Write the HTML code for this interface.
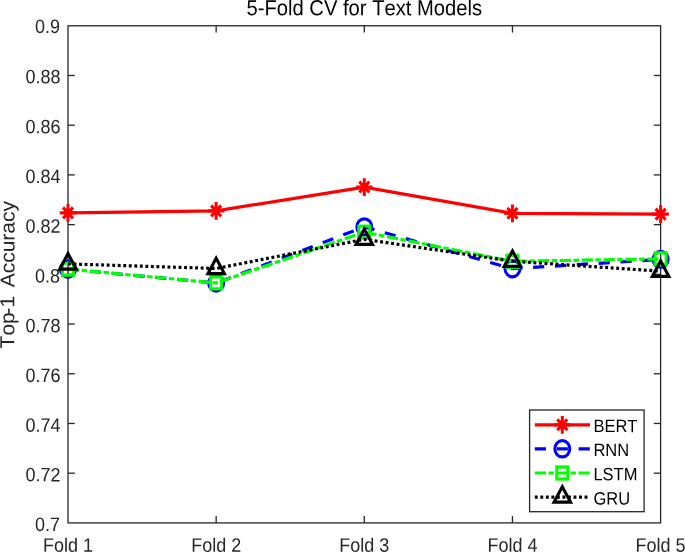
<!DOCTYPE html>
<html lang="en"><head><meta charset="utf-8"><title>5-Fold CV for Text Models</title>
<style>html,body{margin:0;padding:0;background:#fff;}body{width:685px;height:552px;overflow:hidden;}svg{display:block;font-family:"Liberation Sans",Arial,sans-serif;font-kerning:none;}</style>
</head><body>
<svg width="685" height="552" viewBox="0 0 685 552">
<rect x="0" y="0" width="685" height="552" fill="#ffffff"/>
<g stroke="#262626" stroke-width="1.3" fill="none">
<rect x="68.0" y="25.77" width="592.60" height="497.13"/>
<line x1="68.0" y1="473.19" x2="74.80" y2="473.19"/>
<line x1="660.6" y1="473.19" x2="653.80" y2="473.19"/>
<line x1="68.0" y1="423.47" x2="74.80" y2="423.47"/>
<line x1="660.6" y1="423.47" x2="653.80" y2="423.47"/>
<line x1="68.0" y1="373.76" x2="74.80" y2="373.76"/>
<line x1="660.6" y1="373.76" x2="653.80" y2="373.76"/>
<line x1="68.0" y1="324.05" x2="74.80" y2="324.05"/>
<line x1="660.6" y1="324.05" x2="653.80" y2="324.05"/>
<line x1="68.0" y1="274.34" x2="74.80" y2="274.34"/>
<line x1="660.6" y1="274.34" x2="653.80" y2="274.34"/>
<line x1="68.0" y1="224.62" x2="74.80" y2="224.62"/>
<line x1="660.6" y1="224.62" x2="653.80" y2="224.62"/>
<line x1="68.0" y1="174.91" x2="74.80" y2="174.91"/>
<line x1="660.6" y1="174.91" x2="653.80" y2="174.91"/>
<line x1="68.0" y1="125.20" x2="74.80" y2="125.20"/>
<line x1="660.6" y1="125.20" x2="653.80" y2="125.20"/>
<line x1="68.0" y1="75.48" x2="74.80" y2="75.48"/>
<line x1="660.6" y1="75.48" x2="653.80" y2="75.48"/>
<line x1="216.15" y1="522.9" x2="216.15" y2="516.10"/>
<line x1="216.15" y1="25.77" x2="216.15" y2="32.57"/>
<line x1="364.30" y1="522.9" x2="364.30" y2="516.10"/>
<line x1="364.30" y1="25.77" x2="364.30" y2="32.57"/>
<line x1="512.45" y1="522.9" x2="512.45" y2="516.10"/>
<line x1="512.45" y1="25.77" x2="512.45" y2="32.57"/>
</g>
<text transform="translate(60.00,531.10) scale(1,1.08) rotate(0.05)" text-anchor="end" font-size="18.0px" fill="#262626">0.7</text>
<text transform="translate(60.50,481.39) scale(1,1.08) rotate(0.05)" text-anchor="end" font-size="18.0px" fill="#262626">0.72</text>
<text transform="translate(60.50,431.67) scale(1,1.08) rotate(0.05)" text-anchor="end" font-size="18.0px" fill="#262626">0.74</text>
<text transform="translate(60.50,381.96) scale(1,1.08) rotate(0.05)" text-anchor="end" font-size="18.0px" fill="#262626">0.76</text>
<text transform="translate(60.50,332.25) scale(1,1.08) rotate(0.05)" text-anchor="end" font-size="18.0px" fill="#262626">0.78</text>
<text transform="translate(60.00,282.54) scale(1,1.08) rotate(0.05)" text-anchor="end" font-size="18.0px" fill="#262626">0.8</text>
<text transform="translate(60.50,232.82) scale(1,1.08) rotate(0.05)" text-anchor="end" font-size="18.0px" fill="#262626">0.82</text>
<text transform="translate(60.50,183.11) scale(1,1.08) rotate(0.05)" text-anchor="end" font-size="18.0px" fill="#262626">0.84</text>
<text transform="translate(60.50,133.20) scale(1,1.08) rotate(0.05)" text-anchor="end" font-size="18.0px" fill="#262626">0.86</text>
<text transform="translate(60.50,83.28) scale(1,1.08) rotate(0.05)" text-anchor="end" font-size="18.0px" fill="#262626">0.88</text>
<text transform="translate(60.00,33.07) scale(1,1.08) rotate(0.05)" text-anchor="end" font-size="18.0px" fill="#262626">0.9</text>
<text transform="translate(68.00,551.75) scale(1,1.08) rotate(0.05)" text-anchor="middle" font-size="18.0px" fill="#262626">Fold 1</text>
<text transform="translate(216.15,551.75) scale(1,1.08) rotate(0.05)" text-anchor="middle" font-size="18.0px" fill="#262626">Fold 2</text>
<text transform="translate(364.30,551.75) scale(1,1.08) rotate(0.05)" text-anchor="middle" font-size="18.0px" fill="#262626">Fold 3</text>
<text transform="translate(512.45,551.75) scale(1,1.08) rotate(0.05)" text-anchor="middle" font-size="18.0px" fill="#262626">Fold 4</text>
<text transform="translate(660.60,551.75) scale(1,1.08) rotate(0.05)" text-anchor="middle" font-size="18.0px" fill="#262626">Fold 5</text>
<text transform="translate(364.30,15.25) scale(1,1.08) rotate(0.05)" text-anchor="middle" font-size="20.2px" fill="#000000">5-Fold CV for Text Models</text>
<text transform="translate(14.40,274.73) scale(1,1.04) rotate(-89.95)" text-anchor="middle" font-size="20.2px" fill="#262626">Top<tspan dx="-2.2">-1</tspan><tspan dx="2.6"> Accuracy</tspan></text>
<g stroke="#ff0000" fill="none" stroke-linejoin="miter" stroke-miterlimit="10">
<polyline points="68.00,212.90 216.15,210.90 364.30,187.05 512.45,213.30 660.60,214.15" stroke-width="3.2"/>
<g stroke-width="3.0">
<g transform="translate(68.00,212.90) scale(1,1.08)"><path d="M-8.2 0H8.2M0 -8.2V8.2M-5.0 -5.0L5.0 5.0M-5.0 5.0L5.0 -5.0"/></g>
<g transform="translate(216.15,210.90) scale(1,1.08)"><path d="M-8.2 0H8.2M0 -8.2V8.2M-5.0 -5.0L5.0 5.0M-5.0 5.0L5.0 -5.0"/></g>
<g transform="translate(364.30,187.05) scale(1,1.08)"><path d="M-8.2 0H8.2M0 -8.2V8.2M-5.0 -5.0L5.0 5.0M-5.0 5.0L5.0 -5.0"/></g>
<g transform="translate(512.45,213.30) scale(1,1.08)"><path d="M-8.2 0H8.2M0 -8.2V8.2M-5.0 -5.0L5.0 5.0M-5.0 5.0L5.0 -5.0"/></g>
<g transform="translate(660.60,214.15) scale(1,1.08)"><path d="M-8.2 0H8.2M0 -8.2V8.2M-5.0 -5.0L5.0 5.0M-5.0 5.0L5.0 -5.0"/></g>
</g></g>
<g stroke="#0000ff" fill="none" stroke-linejoin="miter" stroke-miterlimit="10">
<polyline points="68.00,269.20 216.15,283.00 364.30,226.90 512.45,268.70 660.60,259.40" stroke-width="3.2" stroke-dasharray="11.2 10.7"/>
<g stroke-width="3.0">
<g transform="translate(68.00,269.20) scale(1,1.08)"><circle cx="0" cy="0" r="7.5"/></g>
<g transform="translate(216.15,283.00) scale(1,1.08)"><circle cx="0" cy="0" r="7.5"/></g>
<g transform="translate(364.30,226.90) scale(1,1.08)"><circle cx="0" cy="0" r="7.5"/></g>
<g transform="translate(512.45,268.70) scale(1,1.08)"><circle cx="0" cy="0" r="7.5"/></g>
<g transform="translate(660.60,259.40) scale(1,1.08)"><circle cx="0" cy="0" r="7.5"/></g>
</g></g>
<g stroke="#00ff00" fill="none" stroke-linejoin="miter" stroke-miterlimit="10">
<polyline points="68.00,269.15 216.15,282.90 364.30,232.15 512.45,261.30 660.60,258.85" stroke-width="3.2" stroke-dasharray="11.2 2.5 5.5 2.7"/>
<g stroke-width="3.0">
<g transform="translate(68.00,269.15) scale(1,1.08)"><rect x="-5.55" y="-5.55" width="11.1" height="11.1"/></g>
<g transform="translate(216.15,282.90) scale(1,1.08)"><rect x="-5.55" y="-5.55" width="11.1" height="11.1"/></g>
<g transform="translate(364.30,232.15) scale(1,1.08)"><rect x="-5.55" y="-5.55" width="11.1" height="11.1"/></g>
<g transform="translate(512.45,261.30) scale(1,1.08)"><rect x="-5.55" y="-5.55" width="11.1" height="11.1"/></g>
<g transform="translate(660.60,258.85) scale(1,1.08)"><rect x="-5.55" y="-5.55" width="11.1" height="11.1"/></g>
</g></g>
<g stroke="#000000" fill="none" stroke-linejoin="miter" stroke-miterlimit="10">
<polyline points="68.00,263.90 216.15,268.50 364.30,239.30 512.45,261.20 660.60,271.20" stroke-width="3.2" stroke-dasharray="2.9 2.63"/>
<g stroke-width="3.0">
<g transform="translate(68.00,263.90) scale(1,1.08)"><path d="M0 -9.53L8.25 4.76H-8.25Z"/></g>
<g transform="translate(216.15,268.50) scale(1,1.08)"><path d="M0 -9.53L8.25 4.76H-8.25Z"/></g>
<g transform="translate(364.30,239.30) scale(1,1.08)"><path d="M0 -9.53L8.25 4.76H-8.25Z"/></g>
<g transform="translate(512.45,261.20) scale(1,1.08)"><path d="M0 -9.53L8.25 4.76H-8.25Z"/></g>
<g transform="translate(660.60,271.20) scale(1,1.08)"><path d="M0 -9.53L8.25 4.76H-8.25Z"/></g>
</g></g>
<rect x="529.6" y="410.0" width="114.50" height="101.70" fill="#ffffff" stroke="#262626" stroke-width="1.3"/>
<g stroke="#ff0000" fill="none" stroke-miterlimit="10">
<line x1="534.8" y1="424.8" x2="590" y2="424.8" stroke-width="3.2"/>
<g stroke-width="3.0"><g transform="translate(562.30,424.80) scale(1,1.08)"><path d="M-8.2 0H8.2M0 -8.2V8.2M-5.0 -5.0L5.0 5.0M-5.0 5.0L5.0 -5.0"/></g></g>
</g>
<text transform="translate(593.40,432.10) scale(1,1.08) rotate(0.05)" text-anchor="start" font-size="16.5px" fill="#000000">BERT</text>
<g stroke="#0000ff" fill="none" stroke-miterlimit="10">
<line x1="534.8" y1="448.8" x2="590" y2="448.8" stroke-width="3.2" stroke-dasharray="11.2 10.7"/>
<g stroke-width="3.0"><g transform="translate(562.30,448.80) scale(1,1.08)"><circle cx="0" cy="0" r="7.5"/></g></g>
</g>
<text transform="translate(593.40,456.10) scale(1,1.08) rotate(0.05)" text-anchor="start" font-size="16.5px" fill="#000000">RNN</text>
<g stroke="#00ff00" fill="none" stroke-miterlimit="10">
<line x1="534.8" y1="473.0" x2="590" y2="473.0" stroke-width="3.2" stroke-dasharray="11.2 2.5 5.5 2.7"/>
<g stroke-width="3.0"><g transform="translate(562.30,473.00) scale(1,1.08)"><rect x="-5.55" y="-5.55" width="11.1" height="11.1"/></g></g>
</g>
<text transform="translate(593.40,480.30) scale(1,1.08) rotate(0.05)" text-anchor="start" font-size="16.5px" fill="#000000">LSTM</text>
<g stroke="#000000" fill="none" stroke-miterlimit="10">
<line x1="534.8" y1="497.1" x2="590" y2="497.1" stroke-width="3.2" stroke-dasharray="2.9 2.63"/>
<g stroke-width="3.0"><g transform="translate(562.30,497.10) scale(1,1.08)"><path d="M0 -9.53L8.25 4.76H-8.25Z"/></g></g>
</g>
<text transform="translate(593.40,504.40) scale(1,1.08) rotate(0.05)" text-anchor="start" font-size="16.5px" fill="#000000">GRU</text>
</svg>
</body></html>
